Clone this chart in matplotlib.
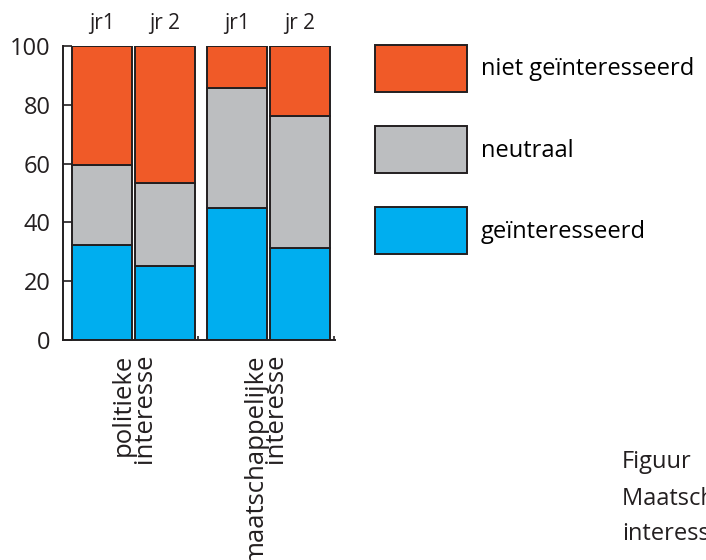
import numpy as np
from matplotlib import pyplot as plt
from matplotlib.patches import Patch

plt.rcParams['font.family'] = ['Open Sans', 'DejaVu Sans']

# data
bar_labels = ['jr1', 'jr 2', 'jr1', 'jr 2']
groups = ['politieke\ninteresse', 'maatschappelijke\ninteresse']
geinteresseerd = [32.3, 25.2, 45.0, 31.2]
neutraal = [27.2, 28.1, 40.6, 45.1]
niet_geinteresseerd = [40.5, 46.7, 14.4, 23.7]
caption = ['Figuur', 'Maatschappelijke en politieke', 'interesse']

c_niet = '#f05a28'
c_neutraal = '#bcbec0'
c_gei = '#00aeef'
edge = '#231f20'


def main():
    fig = plt.figure(figsize=(7.06, 5.6), dpi=100)
    ax = fig.add_axes([63 / 706, 1 - 340 / 560, 272 / 706, 294 / 560])

    x = np.array([0, 1, 2.143, 3.143])
    w = 0.952
    gei = np.array(geinteresseerd)
    neu = np.array(neutraal)
    niet = np.array(niet_geinteresseerd)
    kw = dict(width=w, edgecolor=edge, linewidth=1.4)
    ax.bar(x, gei, color=c_gei, **kw)
    ax.bar(x, neu, bottom=gei, color=c_neutraal, **kw)
    ax.bar(x, niet, bottom=gei + neu, color=c_niet, **kw)

    ax.set_xlim(-0.619, 3.698)
    ax.set_ylim(0, 100)
    for s in ['top', 'right']:
        ax.spines[s].set_visible(False)
    for s in ['left', 'bottom']:
        ax.spines[s].set_linewidth(1.4)
        ax.spines[s].set_color(edge)

    ax.set_yticks([0, 20, 40, 60, 80, 100])
    ax.tick_params(axis='y', direction='in', length=6.5, width=1.2, color=edge,
                   labelsize=17, pad=9, labelcolor=edge)
    ax.set_xticks([1.524, 3.69])
    ax.tick_params(axis='x', direction='in', length=3, width=1.2, color=edge,
                   labelbottom=False)

    for xi, lab in zip(x, bar_labels):
        ax.annotate(lab, (xi, 100), xytext=(0, 12), textcoords='offset points',
                    ha='center', va='baseline', fontsize=15, color=edge)

    for xc, g in zip([(x[0] + x[1]) / 2, (x[2] + x[3]) / 2 - 0.05], groups):
        ax.annotate(g, (xc, 0), xytext=(0, -10), textcoords='offset points',
                    rotation=90, ha='center', va='top', multialignment='right',
                    fontsize=18.5, color=edge, linespacing=0.8)

    handles = [Patch(facecolor=c_niet, edgecolor=edge, linewidth=1.4),
               Patch(facecolor=c_neutraal, edgecolor=edge, linewidth=1.4),
               Patch(facecolor=c_gei, edgecolor=edge, linewidth=1.4)]
    labels = ['niet geïnteresseerd', 'neutraal', 'geïnteresseerd']
    fig.legend(handles, labels, loc='upper left', bbox_to_anchor=(370 / 706, 1 - 40 / 560),
               frameon=False, fontsize=17, handlelength=3.9, handleheight=2.7,
               labelspacing=1.44, handletextpad=0.6, borderaxespad=0, borderpad=0.2)

    # caption, cut off at the right edge like in the original
    for yb, line in zip([468, 505, 540], caption):
        fig.text(622 / 706, 1 - yb / 560, line, ha='left', va='baseline',
                 fontsize=17, color=edge)

    plt.savefig('out.png', dpi=100)
    plt.close()


if __name__ == '__main__':
    main()
